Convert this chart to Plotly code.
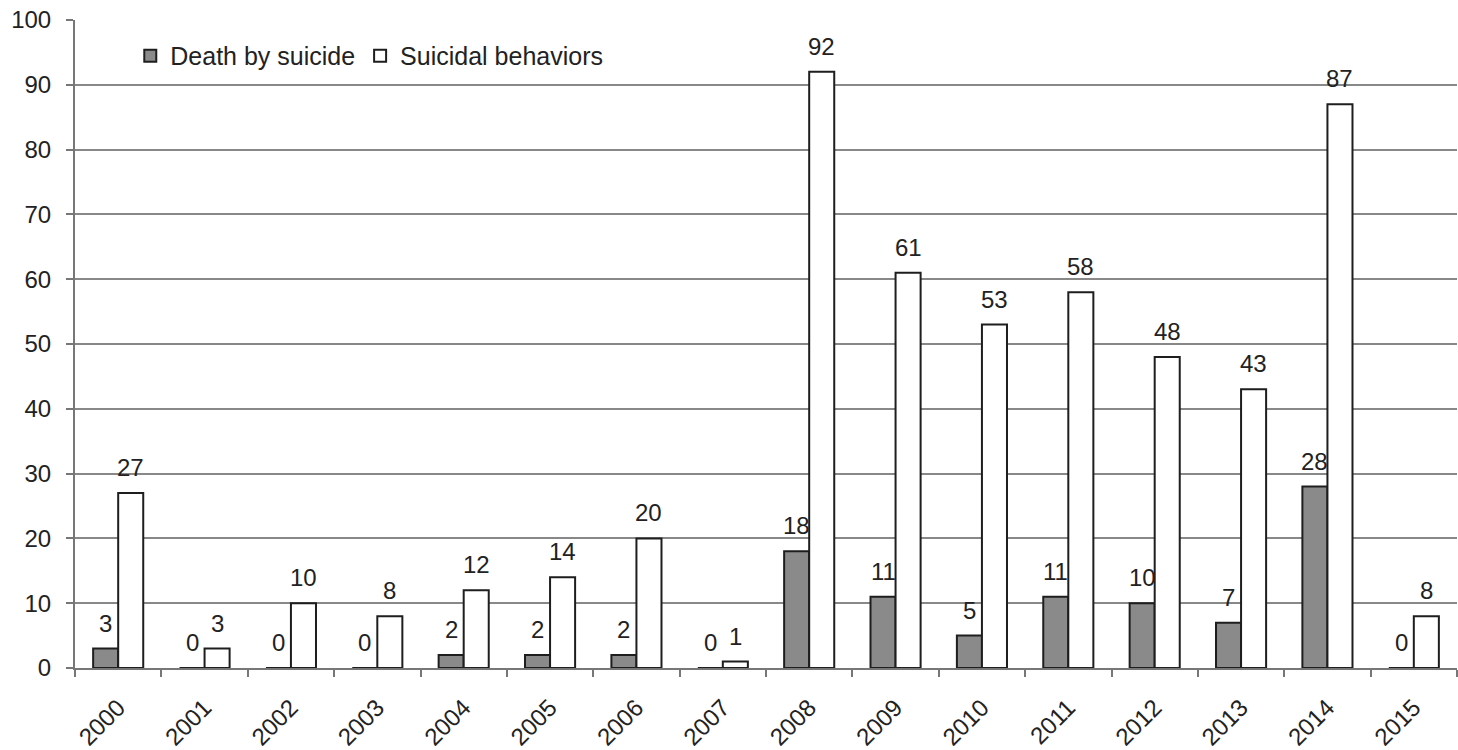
import plotly.graph_objects as go

years = ["2000", "2001", "2002", "2003", "2004", "2005", "2006", "2007",
         "2008", "2009", "2010", "2011", "2012", "2013", "2014", "2015"]
deaths = [3, 0, 0, 0, 2, 2, 2, 0, 18, 11, 5, 11, 10, 7, 28, 0]
behaviors = [27, 3, 10, 8, 12, 14, 20, 1, 92, 61, 53, 58, 48, 43, 87, 8]
y_ticks = list(range(0, 101, 10))

FONT = "Liberation Sans, Arial, sans-serif"
TXT = "#222222"
BARGAP = 0.42
EDGE = dict(color="#1e1e1e", width=2)

fig = go.Figure()
fig.add_trace(go.Bar(name="Death by suicide", x=years, y=deaths,
                     marker=dict(color="#8a8a8a", line=EDGE)))
fig.add_trace(go.Bar(name="Suicidal behaviors", x=years, y=behaviors,
                     marker=dict(color="#ffffff", line=EDGE)))

# value labels above each bar, offset to the left/right half of each group
half = (1 - BARGAP) / 4
annotations = []
for i, (d, b) in enumerate(zip(deaths, behaviors)):
    for val, dx in ((d, -half), (b, half)):
        annotations.append(dict(
            x=i + dx, y=val, xref="x", yref="y", text=str(val),
            showarrow=False, yanchor="bottom", xanchor="center", yshift=10,
            font=dict(size=24, color=TXT, family=FONT)))

fig.update_layout(
    width=1458, height=750,
    margin=dict(l=75, r=1, t=20, b=82),
    paper_bgcolor="white", plot_bgcolor="white",
    barmode="group", bargap=BARGAP, bargroupgap=0,
    font=dict(family=FONT, size=22, color=TXT),
    showlegend=True,
    annotations=annotations,
    legend=dict(orientation="h", x=0.04, y=0.98, xanchor="left", yanchor="top",
                bgcolor="rgba(0,0,0,0)", font=dict(size=25, color=TXT),
                itemwidth=30, traceorder="normal"),
    xaxis=dict(type="category", tickangle=-45, tickson="boundaries",
               ticks="outside", ticklen=7, tickcolor="#777", tickwidth=2,
               ticklabelstandoff=14, automargin=False,
               showline=True, linecolor="#777", linewidth=2,
               showgrid=False, tickfont=dict(size=24, color=TXT)),
    yaxis=dict(range=[0, 100], tickvals=y_ticks, ticks="outside", ticklen=7,
               tickcolor="#777", tickwidth=2, showline=True, linecolor="#777",
               linewidth=2, showgrid=True, gridcolor="#888888", gridwidth=2,
               ticklabelstandoff=10, automargin=False,
               zeroline=False, tickfont=dict(size=24, color=TXT)),
)

fig.write_html("out.html")
